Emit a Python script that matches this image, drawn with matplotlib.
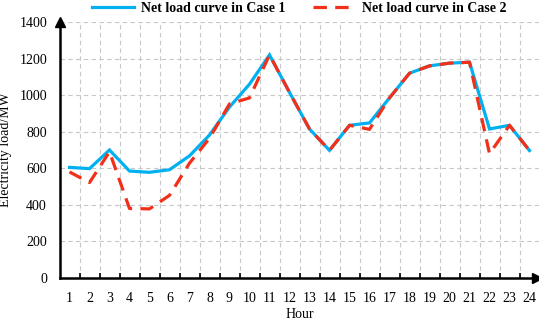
import matplotlib
matplotlib.use('Agg')
import matplotlib.pyplot as plt
import numpy as np

# hourly net load
hours = list(range(1, 25))
case1 = [605, 598, 700, 585, 578, 592, 668, 782, 935, 1060, 1220, 1015,
         815, 698, 835, 848, 985, 1120, 1160, 1175, 1180, 815, 835, 697]
case2 = [580, 522, 690, 380, 378, 452, 628, 764, 952, 985, 1220, 1015,
         815, 698, 835, 813, 985, 1120, 1160, 1175, 1180, 680, 835, 697]
yticks = [0, 200, 400, 600, 800, 1000, 1200, 1400]

plt.rcParams['font.family'] = ['Liberation Serif', 'DejaVu Serif']

fig = plt.figure(figsize=(5.39, 3.22), dpi=100)
ax = fig.add_axes([59.5 / 539, 44 / 322, 480 / 539, 256 / 322])

# grid: dashed, between the categories (Excel style)
grid_kw = dict(color='#c8c8c8', lw=0.8, ls=(0, (4, 3)), zorder=0)
for x in np.arange(1.5, 24.5, 1.0):
    ax.axvline(x, **grid_kw)
for y in yticks[1:]:
    ax.axhline(y, **grid_kw)

l1, = ax.plot(hours, case1, color='#00B0F0', lw=2.3, solid_joinstyle='miter',
              label='Net load curve in Case 1', zorder=3)
l2, = ax.plot(hours, case2, color='#F2301A', lw=2.3, ls=(0, (4.2, 2.6)),
              label='Net load curve in Case 2', zorder=4)

ax.set_xlim(0.5, 24.5)
ax.set_ylim(0, 1400)
ax.set_xticks(hours)
ax.set_xticklabels([str(h) for h in hours], fontsize=10)
ax.set_xticks(np.arange(1.5, 24.5, 1.0), minor=True)
ax.tick_params(axis='x', which='major', length=0, pad=10)
ax.tick_params(axis='x', which='minor', direction='in', length=3.5, width=1.2)
ax.set_yticks(yticks)
ax.set_yticklabels([str(v) for v in yticks], fontsize=10)
ax.tick_params(axis='y', length=0, pad=9)

for s in ['top', 'right']:
    ax.spines[s].set_visible(False)
for s in ['left', 'bottom']:
    ax.spines[s].set_linewidth(1.8)

# arrow heads on the axes
ax.plot(0, 1.0, marker='^', ms=7, color='black', transform=ax.transAxes, clip_on=False, zorder=5)
ax.plot(0.995, 0, marker='>', ms=7, color='black', transform=ax.transAxes, clip_on=False, zorder=5)

ax.set_xlabel('Hour', fontsize=10)
ax.xaxis.set_label_coords(0.5, -30 / 256)
ax.set_ylabel('Electricity load/MW', fontsize=10)
ax.yaxis.set_label_coords(-47 / 480, 0.5)

fig.legend(handles=[l1, l2], loc='center', bbox_to_anchor=(0.555, 0.975), ncol=2,
           frameon=False, prop={'weight': 'bold', 'size': 10}, handlelength=3.0,
           columnspacing=2.0, handletextpad=0.5)

fig.savefig('out.png', dpi=100)
